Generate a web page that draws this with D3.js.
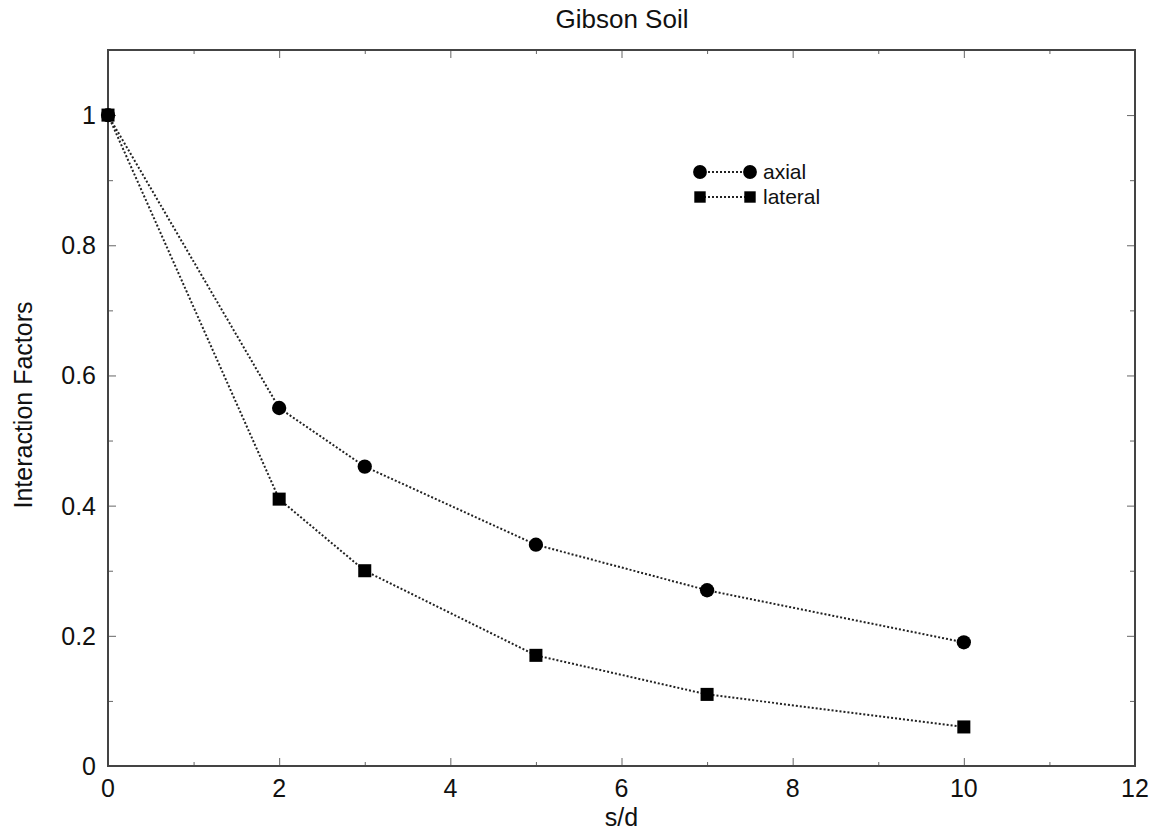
<!DOCTYPE html>
<html>
<head>
<meta charset="utf-8">
<script src="https://cdn.jsdelivr.net/npm/d3@7"></script>
<style>
  body { margin: 0; background: #fff; }
  text { font-family: "Liberation Sans", Arial, sans-serif; fill: #111; }
</style>
</head>
<body>
<svg id="chart"></svg>
<script>
// s/d values and interaction factors
var sd = [0, 2, 3, 5, 7, 10];
var axial = [1, 0.55, 0.46, 0.34, 0.27, 0.19];
var lateral = [1, 0.41, 0.30, 0.17, 0.11, 0.06];
var xTicks = [0, 2, 4, 6, 8, 10, 12];
var yTicks = [0, 0.2, 0.4, 0.6, 0.8, 1];

var width = 1158, height = 832;
var margin = {top: 50, right: 23, bottom: 66, left: 108};

var svg = d3.select("#chart")
  .attr("width", width)
  .attr("height", height);

var x = d3.scaleLinear().domain([0, 12]).range([margin.left, width - margin.right]);
var y = d3.scaleLinear().domain([0, 1.1]).range([height - margin.bottom, margin.top]);

// minor + major ticks on all four sides, pointing inward
function ticks(axisFn, scale, vals, size, pos) {
  var a = axisFn(scale).tickValues(vals).tickSize(size).tickFormat("");
  var g = svg.append("g").attr("transform", pos).call(a);
  g.select(".domain").remove();
  g.selectAll("line").attr("stroke", "#666").attr("stroke-width", 1);
  return g;
}
var xMinor = d3.range(1, 12, 2), yMinor = d3.range(0.1, 1.1, 0.2);
ticks(d3.axisTop, x, xTicks, 8, "translate(0," + y(0) + ")");
ticks(d3.axisTop, x, xMinor, 4, "translate(0," + y(0) + ")");
ticks(d3.axisBottom, x, xTicks, 8, "translate(0," + y(1.1) + ")");
ticks(d3.axisBottom, x, xMinor, 4, "translate(0," + y(1.1) + ")");
ticks(d3.axisRight, y, yTicks, 8, "translate(" + x(0) + ",0)");
ticks(d3.axisRight, y, yMinor, 5, "translate(" + x(0) + ",0)");
ticks(d3.axisLeft, y, yTicks, 8, "translate(" + x(12) + ",0)");
ticks(d3.axisLeft, y, yMinor, 5, "translate(" + x(12) + ",0)");

// frame
svg.append("rect")
  .attr("x", x(0)).attr("y", y(1.1))
  .attr("width", x(12) - x(0)).attr("height", y(0) - y(1.1))
  .attr("fill", "none").attr("stroke", "#444").attr("stroke-width", 2);

// tick labels
svg.selectAll(".xl").data(xTicks).enter().append("text")
  .attr("x", function(d) { return x(d); })
  .attr("y", y(0) + 31)
  .attr("text-anchor", "middle")
  .style("font-size", "25px")
  .text(function(d) { return d; });

svg.selectAll(".yl").data(yTicks).enter().append("text")
  .attr("x", x(0) - 12)
  .attr("y", function(d) { return y(d) + 9; })
  .attr("text-anchor", "end")
  .style("font-size", "25px")
  .text(function(d) { return d; });

// titles
svg.append("text").attr("x", 622).attr("y", 28)
  .attr("text-anchor", "middle").style("font-size", "26px").text("Gibson Soil");
svg.append("text").attr("x", x(6)).attr("y", 826)
  .attr("text-anchor", "middle").style("font-size", "25px").text("s/d");
svg.append("text")
  .attr("transform", "translate(32,405) rotate(-90)")
  .attr("text-anchor", "middle").style("font-size", "25px").text("Interaction Factors");

var line = d3.line()
  .x(function(d) { return x(d[0]); })
  .y(function(d) { return y(d[1]); });

var series = [
  {name: "axial", vals: axial, shape: d3.symbolCircle},
  {name: "lateral", vals: lateral, shape: d3.symbolSquare}
];

series.forEach(function(s) {
  var pts = sd.map(function(v, i) { return [v, s.vals[i]]; });
  svg.append("path")
    .attr("d", line(pts))
    .attr("fill", "none")
    .attr("stroke", "#222")
    .attr("stroke-width", 2)
    .attr("stroke-dasharray", "2,2");
  svg.selectAll(null).data(pts).enter().append("path")
    .attr("d", d3.symbol().type(s.shape).size(s.shape === d3.symbolCircle ? 160 : 170))
    .attr("transform", function(d) { return "translate(" + x(d[0]) + "," + y(d[1]) + ")"; })
    .attr("fill", "#000");
});

// legend
var leg = svg.append("g").attr("transform", "translate(700,172)");
series.forEach(function(s, i) {
  var row = leg.append("g").attr("transform", "translate(0," + i * 25 + ")");
  row.append("line").attr("x1", 0).attr("x2", 50)
    .attr("stroke", "#222").attr("stroke-width", 2).attr("stroke-dasharray", "2,2");
  [0, 50].forEach(function(px) {
    row.append("path")
      .attr("d", d3.symbol().type(s.shape).size(s.shape === d3.symbolCircle ? 150 : 130))
      .attr("transform", "translate(" + px + ",0)")
      .attr("fill", "#000");
  });
  row.append("text").attr("x", 63).attr("y", 7)
    .style("font-size", "21px").text(s.name);
});
</script>
</body>
</html>
